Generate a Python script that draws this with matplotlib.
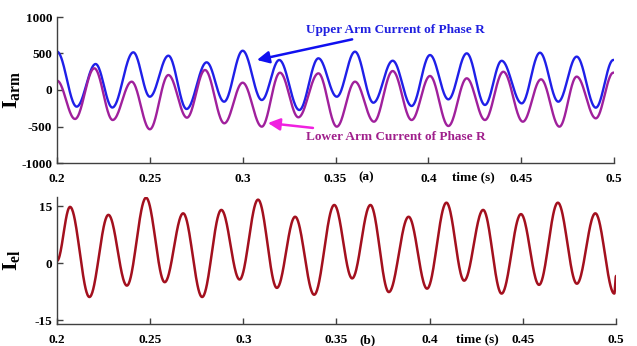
import numpy as np
import matplotlib
matplotlib.use('Agg')
import matplotlib.pyplot as plt

# extrema (time in s, value)
upper_t = [0.2000, 0.2106, 0.2208, 0.2298, 0.2411, 0.2500, 0.2600, 0.2698, 0.2806, 0.2900,
           0.3000, 0.3103, 0.3197, 0.3305, 0.3408, 0.3507, 0.3605, 0.3704, 0.3808, 0.3910,
           0.4009, 0.4108, 0.4207, 0.4305, 0.4395, 0.4503, 0.4601, 0.4700, 0.4799, 0.4902, 0.4996]
upper_v = [525, -228, 356, -240, 516, -92, 470, -260, 379, -160,
           538, -137, 411, -274, 434, -92, 525, -174, 401, -219,
           479, -128, 502, -205, 400, -183, 511, -160, 457, -242, 411]

lower_t = [0.2000, 0.2097, 0.2201, 0.2300, 0.2402, 0.2500, 0.2600, 0.2700, 0.2797, 0.2901,
           0.3000, 0.3103, 0.3201, 0.3300, 0.3408, 0.3507, 0.3605, 0.3707, 0.3808, 0.3910,
           0.4009, 0.4108, 0.4207, 0.4305, 0.4404, 0.4509, 0.4607, 0.4706, 0.4799, 0.4902, 0.4996]
lower_v = [128, -397, 297, -411, 114, -538, 205, -379, 274, -456,
           100, -502, 237, -374, 228, -502, 114, -434, 260, -411,
           192, -493, 160, -411, 250, -434, 146, -502, 183, -388, 237]

iel_t = [0.2000, 0.2070, 0.2174, 0.2276, 0.2375, 0.2478, 0.2578, 0.2677, 0.2779, 0.2882,
         0.2980, 0.3079, 0.3180, 0.3278, 0.3380, 0.3488, 0.3584, 0.3682, 0.3781, 0.3887,
         0.3986, 0.4090, 0.4185, 0.4287, 0.4386, 0.4490, 0.4587, 0.4688, 0.4790, 0.4889,
         0.4991, 0.5000]
iel_v = [0.6, 14.8, -8.9, 12.7, -5.9, 17.2, -5.0, 13.1, -8.9, 14.0,
         -4.3, 16.7, -6.5, 12.2, -8.3, 15.3, -4.0, 15.3, -7.6, 12.2,
         -6.7, 15.9, -4.6, 14.0, -8.0, 12.9, -5.7, 15.9, -5.4, 13.1,
         -8.0, -3.4]


def wave(tp, vp, n=40):
    # half-cosine between consecutive extrema
    xs, ys = [], []
    for i in range(len(tp) - 1):
        s = np.linspace(0, 1, n, endpoint=False)
        w = (1 - np.cos(np.pi * s)) / 2
        xs.append(tp[i] + (tp[i + 1] - tp[i]) * s)
        ys.append(vp[i] + (vp[i + 1] - vp[i]) * w)
    xs.append([tp[-1]])
    ys.append([vp[-1]])
    return np.concatenate(xs), np.concatenate(ys)


plt.rcParams['font.family'] = 'Liberation Serif'
plt.rcParams['font.weight'] = 'bold'
plt.rcParams['axes.unicode_minus'] = False
plt.rcParams['mathtext.fontset'] = 'custom'
plt.rcParams['mathtext.rm'] = 'Liberation Serif'
plt.rcParams['mathtext.bf'] = 'Liberation Serif:bold'

fig = plt.figure(figsize=(6.37, 3.46), dpi=100)
ax1 = fig.add_axes([57/637, 1-163/346, 557/637, 146/346])
ax2 = fig.add_axes([57/637, 1-324/346, 559/637, 127/346])

c_up = '#1f1fe8'
c_lo = '#a0209c'
c_el = '#a3101e'

x, y = wave(upper_t, upper_v)
ax1.plot(x, y, color=c_up, lw=1.7)
x, y = wave(lower_t, lower_v)
ax1.plot(x, y, color=c_lo, lw=1.7)
ax1.set_xlim(0.2, 0.5)
ax1.set_ylim(-1000, 1000)
ax1.set_yticks([-1000, -500, 0, 500, 1000])

ax1.annotate('Upper Arm Current of Phase R', xy=(0.3077, 411), xytext=(0.3341, 822),
             color='#2020e0', fontsize=9.5, fontweight='bold', va='center',
             arrowprops=dict(arrowstyle='-|>', color='#1010f0', lw=1.8, mutation_scale=18,
                             shrinkA=2, shrinkB=0))
ax1.annotate('Lower Arm Current of Phase R', xy=(0.3136, -452), xytext=(0.3341, -644),
             color='#a0208c', fontsize=9.5, fontweight='bold', va='center',
             arrowprops=dict(arrowstyle='-|>', color='#f020e0', lw=1.8, mutation_scale=18,
                             shrinkA=2, shrinkB=0))

x, y = wave(iel_t, iel_v)
ax2.plot(x, y, color=c_el, lw=1.8)
ax2.set_xlim(0.2, 0.5)
ax2.set_ylim(-16, 17.4)
ax2.set_yticks([-15, 0, 15])

xt = [0.2, 0.25, 0.3, 0.35, 0.4, 0.45, 0.5]
for ax in [ax1, ax2]:
    ax.set_xticks(xt)
    ax.set_xticklabels(['0.2', '0.25', '0.3', '0.35', '0.4', '0.45', '0.5'])
    ax.spines['top'].set_visible(False)
    ax.spines['right'].set_visible(False)
    for s in ['left', 'bottom']:
        ax.spines[s].set_color('#404040')
        ax.spines[s].set_linewidth(1.0)
    ax.tick_params(direction='in', length=4, width=1, color='#404040', labelsize=9.5)
    ax.tick_params(axis='x', pad=7)
    for lab in ax.get_xticklabels() + ax.get_yticklabels():
        lab.set_fontweight('bold')

ax1.text(0.3664, -0.096, '(a)', transform=ax1.get_xaxis_transform(), ha='center', va='center',
         fontsize=9.5, fontweight='bold')
ax1.text(0.424, -0.096, 'time (s)', transform=ax1.get_xaxis_transform(), ha='center', va='center',
         fontsize=9.5, fontweight='bold')
ax2.text(0.3666, -0.125, '(b)', transform=ax2.get_xaxis_transform(), ha='center', va='center',
         fontsize=9.5, fontweight='bold')
ax2.text(0.4255, -0.118, 'time (s)', transform=ax2.get_xaxis_transform(), ha='center', va='center',
         fontsize=9.5, fontweight='bold')

ax1.set_ylabel(r'$\mathbf{I_{arm}}$', fontsize=16)
ax1.yaxis.set_label_coords(-0.063, 0.5)
ax2.set_ylabel(r'$\mathbf{I_{el}}$', fontsize=16)
ax2.yaxis.set_label_coords(-0.063, 0.5)

fig.savefig('out.png', dpi=100)
